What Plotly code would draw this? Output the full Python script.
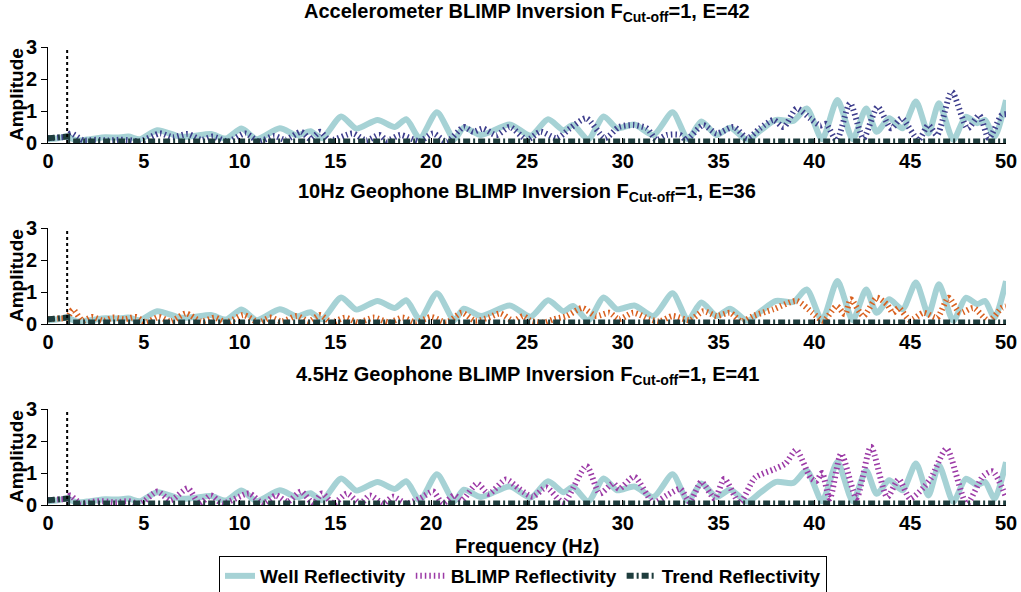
import plotly.graph_objects as go

# ---------------- data ----------------
well_f = [0, 0.5, 1.0, 1.5, 2.2, 3.0, 3.6, 4.2, 4.8, 5.7, 6.9, 7.6, 8.5, 9.3, 10.1, 10.9, 12.1, 13.0, 13.7, 14.3,
          15.3, 16.1, 17.2, 18.1, 18.7, 19.4, 20.3, 21.2, 21.7, 22.6, 24.1, 25.2, 26.1, 26.9, 27.4, 28.2, 29.0, 29.7,
          30.6, 31.6, 32.6, 33.4, 34.1, 34.9, 35.6, 36.5, 37.2, 38.0, 38.9, 39.6, 40.4, 41.2, 42.0, 42.7, 43.25,
          43.9, 44.6, 45.3, 45.95, 46.5, 47.25, 47.9, 48.5, 48.9, 49.4, 50.0]
well_a = [0.12, 0.15, 0.2, 0.08, 0.12, 0.18, 0.17, 0.2, 0.12, 0.4, 0.2, 0.22, 0.28, 0.14, 0.45, 0.12, 0.46, 0.24,
          0.37, 0.15, 0.83, 0.45, 0.72, 0.5, 0.74, 0.15, 0.96, 0.12, 0.48, 0.25, 0.58, 0.23, 0.74, 0.4, 0.56, 0.12,
          0.83, 0.46, 0.58, 0.25, 0.96, 0.12, 0.67, 0.25, 0.48, 0.1, 0.4, 0.72, 0.69, 1.08, 0.12, 1.34, 0.12, 1.08,
          0.35, 0.77, 0.46, 1.3, 0.3, 1.24, 0.1, 0.82, 0.62, 0.72, 0.2, 1.34]

acc_f = [0, 0.5, 1.0, 1.2, 1.85, 2.5, 3.1, 3.7, 4.2, 4.8, 5.85, 6.5, 7.3, 8.0, 8.6, 9.4, 10.3, 11.0, 11.8, 12.4,
         13.2, 13.7, 14.2, 14.7, 15.9, 16.6, 17.3, 17.7, 18.4, 19.4, 20.1, 20.8, 21.7, 22.2, 22.7, 23.4, 24.1, 25.0,
         25.7, 26.55, 27.25, 28.1, 29.07, 29.8, 30.55, 31.25, 31.76, 32.3, 33.0, 33.3, 34.2, 34.9, 35.8, 36.5,
         37.16, 37.86, 38.4, 39.07, 39.77, 40.3, 40.6, 41.16, 41.86, 42.56, 43.3, 44.0, 44.55, 45.43, 45.95, 46.4,
         47.17, 48.0, 48.6, 49.1, 49.77, 50.0]
acc_a = [0.15, 0.17, 0.2, 0.3, 0.08, 0.1, 0.08, 0.1, 0.09, 0.05, 0.3, 0.18, 0.28, 0.1, 0.2, 0.05, 0.3, 0.05, 0.22,
         0.1, 0.35, 0.12, 0.35, 0.08, 0.3, 0.08, 0.25, 0.08, 0.25, 0.06, 0.3, 0.04, 0.5, 0.35, 0.45, 0.25, 0.5, 0.1,
         0.35, 0.15, 0.46, 0.77, 0.15, 0.5, 0.56, 0.46, 0.1, 0.25, 0.25, 0.1, 0.56, 0.3, 0.5, 0.15, 0.46, 0.72, 0.5,
         1.08, 0.77, 0.55, 0.6, 0.09, 1.24, 0.15, 1.13, 0.46, 0.77, 0.1, 0.56, 0.25, 1.6, 0.46, 0.87, 0.15, 0.87,
         0.9]

g10_f = [0, 0.5, 1.0, 1.3, 1.8, 2.3, 2.9, 3.4, 4.0, 4.6, 5.1, 5.8, 6.4, 7.2, 8.0, 8.7, 9.3, 10.2, 11.0, 11.6, 12.2,
         13.0, 13.6, 14.2, 14.8, 15.5, 16.2, 17.0, 17.8, 18.5, 19.2, 20.0, 20.8, 21.6, 22.3, 23.0, 23.6, 24.3, 24.8,
         25.2, 25.9, 26.4, 27.07, 27.9, 28.6, 29.3, 29.8, 30.55, 31.4, 31.9, 32.6, 33.5, 34.2, 34.9, 35.6, 36.2,
         36.8, 37.86, 39.07, 39.9, 40.47, 41.16, 41.6, 41.9, 42.56, 43.25, 43.8, 44.1, 44.4, 45.0, 45.7, 46.4, 47.0,
         47.6, 48.3, 49.1, 49.77, 50.0]
g10_a = [0.15, 0.17, 0.2, 0.45, 0.1, 0.22, 0.1, 0.2, 0.15, 0.22, 0.05, 0.22, 0.08, 0.33, 0.08, 0.2, 0.05, 0.28,
         0.05, 0.2, 0.08, 0.25, 0.08, 0.28, 0.05, 0.2, 0.05, 0.2, 0.05, 0.2, 0.05, 0.22, 0.05, 0.35, 0.1, 0.2, 0.33,
         0.1, 0.25, 0.1, 0.05, 0.15, 0.25, 0.5, 0.25, 0.35, 0.15, 0.35, 0.15, 0.08, 0.25, 0.12, 0.4, 0.25, 0.35,
         0.08, 0.25, 0.46, 0.72, 0.35, 0.1, 0.56, 0.3, 0.77, 0.25, 0.82, 0.6, 0.35, 0.5, 0.12, 0.35, 0.2, 0.82,
         0.35, 0.5, 0.1, 0.5, 0.55]

g45_f = [0, 0.5, 1.0, 1.15, 1.7, 2.3, 2.9, 3.5, 4.2, 4.8, 5.7, 6.4, 7.3, 7.9, 8.5, 9.1, 10.5, 11.2, 11.9, 12.5,
         13.2, 13.85, 14.3, 14.9, 15.6, 16.3, 16.8, 17.5, 18.0, 18.7, 19.4, 20.1, 20.6, 21.2, 21.6, 22.4, 23.0,
         23.9, 24.6, 25.3, 26.0, 26.9, 28.1, 28.8, 29.5, 29.8, 30.6, 31.6, 32.3, 33.0, 33.5, 34.1, 34.8, 35.3,
         36.1, 36.9, 37.9, 38.5, 39.05, 39.8, 40.1, 40.4, 40.8, 41.4, 42.2, 42.95, 43.8, 44.4, 45.0, 45.7, 46.1,
         46.9, 47.95, 48.8, 49.3, 50.0]
g45_a = [0.15, 0.17, 0.2, 0.3, 0.05, 0.1, 0.12, 0.08, 0.12, 0.04, 0.42, 0.15, 0.52, 0.05, 0.3, 0.05, 0.36, 0.05,
         0.3, 0.1, 0.42, 0.05, 0.36, 0.05, 0.36, 0.05, 0.3, 0.05, 0.26, 0.05, 0.2, 0.42, 0.05, 0.3, 0.15, 0.67,
         0.35, 0.8, 0.5, 0.26, 0.55, 0.08, 1.22, 0.36, 0.68, 0.5, 0.88, 0.08, 0.3, 0.5, 0.1, 0.72, 0.2, 0.82, 0.08,
         0.85, 1.12, 1.3, 1.72, 0.85, 0.75, 1.0, 0.2, 1.6, 0.22, 1.82, 0.25, 0.8, 0.2, 0.55, 0.85, 1.76, 0.05, 0.9,
         1.05, 0.25]

trend_f = [0, 1.0, 1.0, 50.0]
trend_a = [0.15, 0.2, 0.05, 0.05]

cutoff_f = [1.0, 1.0]
cutoff_a = [0.0, 3.0]

titles = ["Accelerometer BLIMP Inversion F<sub>Cut-off</sub>=1, E=42",
          "10Hz Geophone BLIMP Inversion F<sub>Cut-off</sub>=1, E=36",
          "4.5Hz Geophone BLIMP Inversion F<sub>Cut-off</sub>=1, E=41"]
blimp_series = [(acc_f, acc_a), (g10_f, g10_a), (g45_f, g45_a)]
blimp_colors = ["#3d3d8c", "#d9601e", "#9c3aa6"]
x_ticks = [0, 5, 10, 15, 20, 25, 30, 35, 40, 45, 50]
y_ticks = [0, 1, 2, 3]

# ---------------- layout geometry (px) ----------------
W, H = 1021, 592
L, R = 48, 15
panels_px = [(47, 143), (228, 324), (409, 505)]
title_px = [13, 193, 375]

FONT = "Liberation Sans, Arial, sans-serif"
WELL_C = "#a6d2d5"
TREND_C = "#1e3d3d"

fig = go.Figure()
layout = {}
annotations = []

for i in range(3):
    sfx = "" if i == 0 else str(i + 1)
    xa, ya = "x" + sfx, "y" + sfx
    last = (i == 2)
    bf, ba = blimp_series[i]
    fig.add_trace(go.Scatter(x=well_f, y=well_a, xaxis=xa, yaxis=ya, mode="lines",
                             line=dict(color=WELL_C, width=6, shape="spline", smoothing=0.7),
                             name="Well Reflectivity", showlegend=last, legendrank=1))
    fig.add_trace(go.Scatter(x=bf, y=ba, xaxis=xa, yaxis=ya, mode="lines",
                             line=dict(color=blimp_colors[i], width=6, dash="1.5px,3px",
                                       shape="spline", smoothing=0.7),
                             name="BLIMP Reflectivity", showlegend=last, legendrank=2))
    fig.add_trace(go.Scatter(x=trend_f, y=trend_a, xaxis=xa, yaxis=ya, mode="lines",
                             line=dict(color=TREND_C, width=6, dash="7px,3px,2px,3px"),
                             name="Trend Reflectivity", showlegend=last, legendrank=3))
    fig.add_trace(go.Scatter(x=cutoff_f, y=cutoff_a, xaxis=xa, yaxis=ya, mode="lines",
                             line=dict(color="black", width=2, dash="dot"),
                             showlegend=False, hoverinfo="skip"))

    top, bot = panels_px[i]
    layout["xaxis" + sfx] = dict(domain=[0, 1], anchor=ya, range=[0, 50], tickvals=x_ticks,
                                 ticks="inside", ticklen=5, tickcolor="black", showline=True,
                                 linecolor="black", linewidth=1, showgrid=False, zeroline=False,
                                 tickfont=dict(family=FONT, size=20, color="black", weight="bold"))
    layout["yaxis" + sfx] = dict(domain=[1 - bot / H, 1 - top / H], anchor=xa, range=[0, 3],
                                 tickvals=y_ticks, ticks="outside", ticklen=6, tickcolor="black",
                                 showline=True, linecolor="black", linewidth=1, showgrid=False,
                                 zeroline=False,
                                 tickfont=dict(family=FONT, size=20, color="black", weight="bold"))
    annotations.append(dict(text="<b>" + titles[i] + "</b>",
                            xref="paper", yref="paper", x=(527 - L) / (W - L - R),
                            y=1 - title_px[i] / H, xanchor="center", yanchor="middle",
                            showarrow=False, font=dict(family=FONT, size=20, color="black")))
    annotations.append(dict(text="<b>Amplitude</b>", xref="paper", yref="paper",
                            x=(16 - L) / (W - L - R), y=1 - (top + bot) / 2 / H, textangle=-90,
                            xanchor="center", yanchor="middle", showarrow=False,
                            font=dict(family=FONT, size=19, color="black")))

annotations.append(dict(text="<b>Frequency (Hz)</b>", xref="paper", yref="paper",
                        x=(527 - L) / (W - L - R), y=1 - 546 / H, xanchor="center", yanchor="middle",
                        showarrow=False, font=dict(family=FONT, size=20, color="black")))

fig.update_layout(
    width=W, height=H, paper_bgcolor="white", plot_bgcolor="white",
    margin=dict(l=L, r=R, t=0, b=0, autoexpand=False),
    annotations=annotations,
    legend=dict(orientation="h", x=(523 - L) / (W - L - R), xanchor="center", y=1 - 576 / H,
                yanchor="middle", bordercolor="black", borderwidth=1, bgcolor="white",
                font=dict(family=FONT, size=19, color="black", weight="bold"),
                itemwidth=30, tracegroupgap=0),
    **layout,
)

fig.write_html("out.html")
